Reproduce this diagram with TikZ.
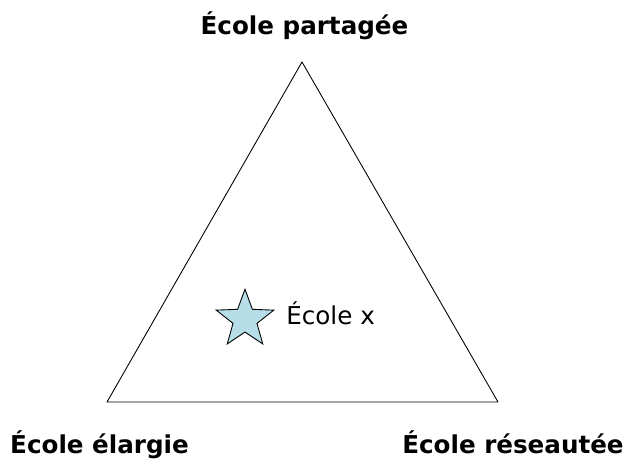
\documentclass[tikz,border=0pt]{standalone}
\usepackage{fontspec}
\setmainfont{DejaVu Sans}
\usepackage{tikz,tkz-euclide}
\usetikzlibrary{shapes.geometric}

\tikzset{
  label/.style={font=\fontsize{14}{16}\selectfont\bfseries,anchor=base,inner sep=0pt},
  starmark/.style={star,star points=5,star point ratio=2.4,minimum size=1.21cm,
    inner sep=0pt,draw=black,line width=0.5,fill=starblue},
}
\definecolor{starblue}{HTML}{B7DEE8}

\begin{document}
\begin{tikzpicture}
        \useasboundingbox (0,0) rectangle (12.52,9.18);
        \tkzDefPoint(6.04,7.94){P}
        \tkzDefPoint(2.14,1.14){E}
        \tkzDefPoint(9.96,1.14){R}
        \tkzDefPoint(4.90,2.79){X}

        \tkzDrawPolygon[color=black,line width=0.5](P,E,R)
        \node[starmark] (x) at (X) {};
        \node[anchor=base west,inner sep=0pt,font=\fontsize{14}{16}\selectfont] (xl) at (5.72,2.68) {École x};

        \node[label] (lp) at (6.09,8.48) {École partagée};
        \node[label] (le) at (1.99,0.10) {École élargie};
        \node[label] (lr) at (10.26,0.10) {École réseautée};
    \end{tikzpicture}
\end{document}
